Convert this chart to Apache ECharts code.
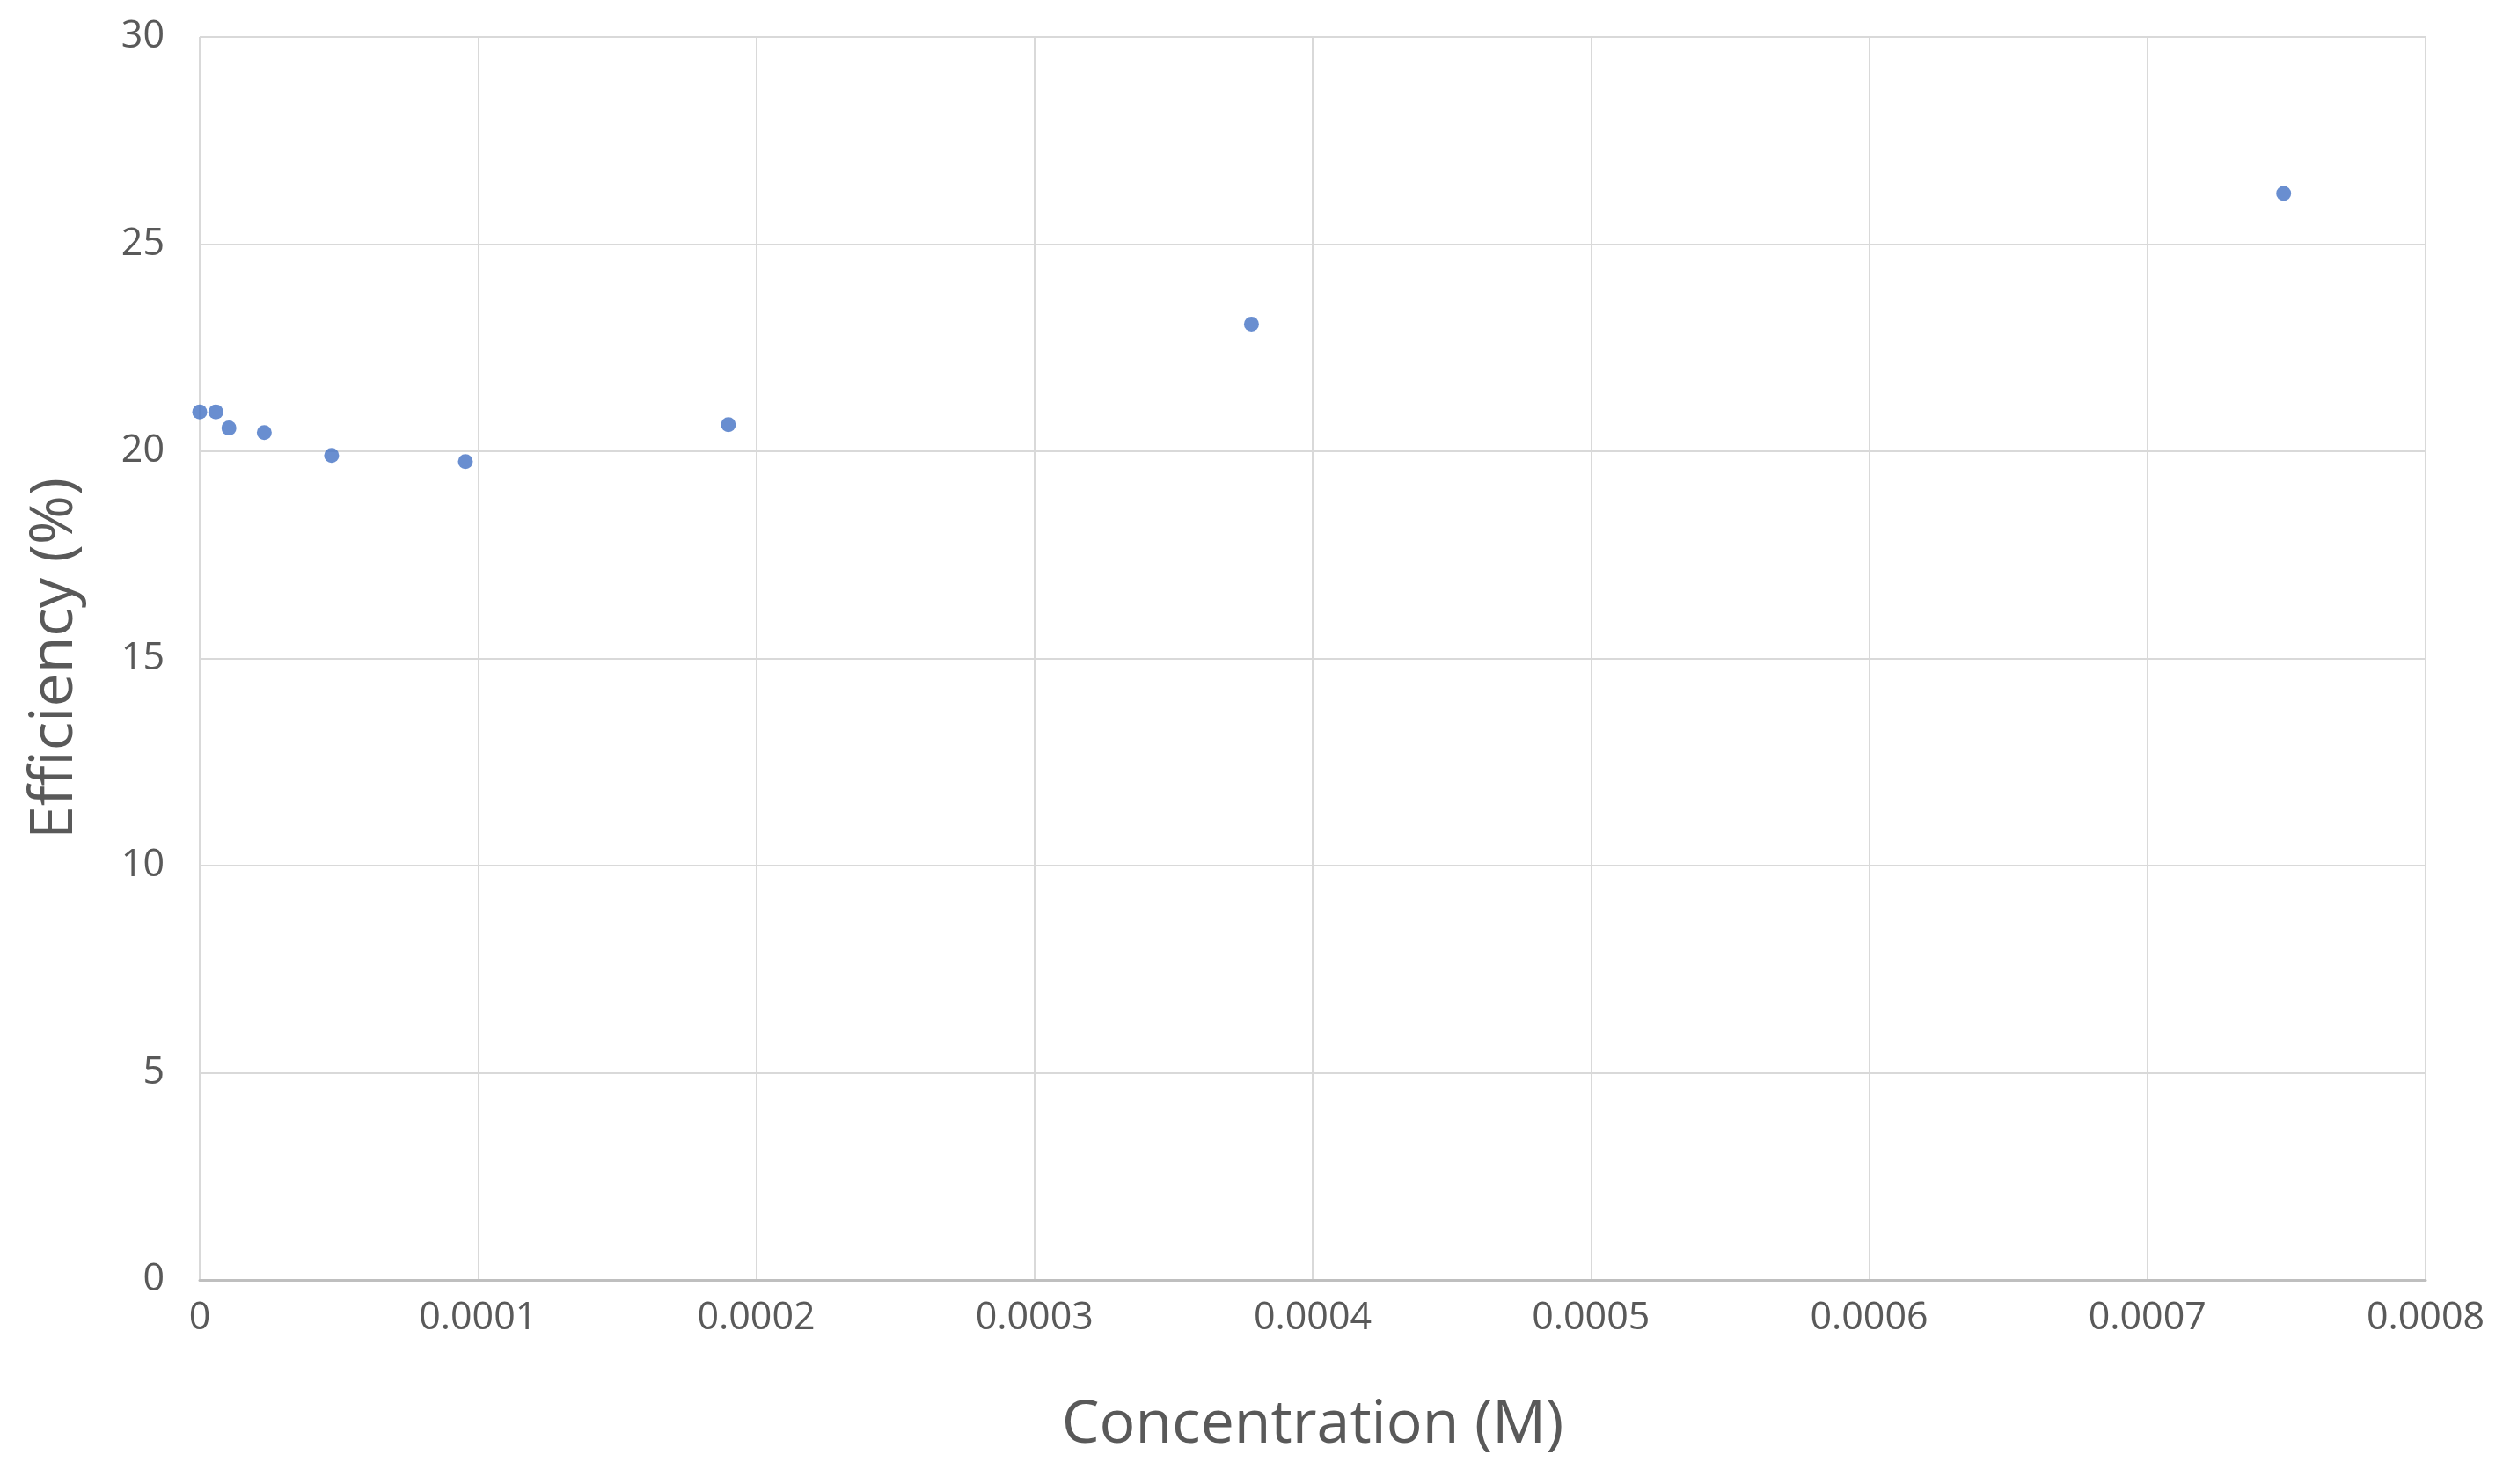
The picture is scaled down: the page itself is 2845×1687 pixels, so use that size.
<!DOCTYPE html>
<html>
<head>
<meta charset="utf-8">
<script src="https://cdn.jsdelivr.net/npm/echarts@6/dist/echarts.min.js"></script>
<style>html,body{margin:0;padding:0;background:#fff}#chart{width:2845px;height:1687px}</style>
</head>
<body>
<div id="chart"></div>
<script>
// concentration (M) and efficiency (%)
const concentration = [0, 0.0000058, 0.0000105, 0.0000232, 0.0000474, 0.0000955, 0.00019, 0.000378, 0.000749];
const efficiency = [20.95, 20.95, 20.56, 20.45, 19.9, 19.75, 20.64, 23.07, 26.22];

const chart = echarts.init(document.getElementById('chart'));
const axisText = { color: '#595959', fontSize: 43, fontFamily: 'Open Sans' };
chart.setOption({
    animation: false,
    grid: { left: 227, right: 88, top: 42, bottom: 232 },
    xAxis: {
        type: 'value', min: 0, max: 0.0008, interval: 0.0001,
        name: 'Concentration (M)', nameLocation: 'middle', nameGap: 132,
        nameTextStyle: { color: '#595959', fontSize: 68, fontFamily: 'Open Sans' },
        axisLine: { show: true, lineStyle: { color: '#bfbfbf', width: 3 } },
        axisTick: { show: false },
        axisLabel: Object.assign({ margin: 22, formatter: v => String(+v.toFixed(4)) }, axisText),
        splitLine: { lineStyle: { color: '#d9d9d9', width: 2 } }
    },
    yAxis: {
        type: 'value', min: 0, max: 30, interval: 5,
        name: 'Efficiency (%)', nameLocation: 'middle', nameGap: 130,
        nameTextStyle: { color: '#595959', fontSize: 68, fontFamily: 'Open Sans' },
        axisLine: { show: false }, axisTick: { show: false },
        axisLabel: Object.assign({ margin: 40 }, axisText),
        splitLine: { lineStyle: { color: '#d9d9d9', width: 2 } }
    },
    series: [{
        type: 'scatter', symbolSize: 17,
        itemStyle: { color: '#4472C4' },
        data: concentration.map((c, i) => [c, efficiency[i]])
    }]
});
</script>
</body>
</html>
